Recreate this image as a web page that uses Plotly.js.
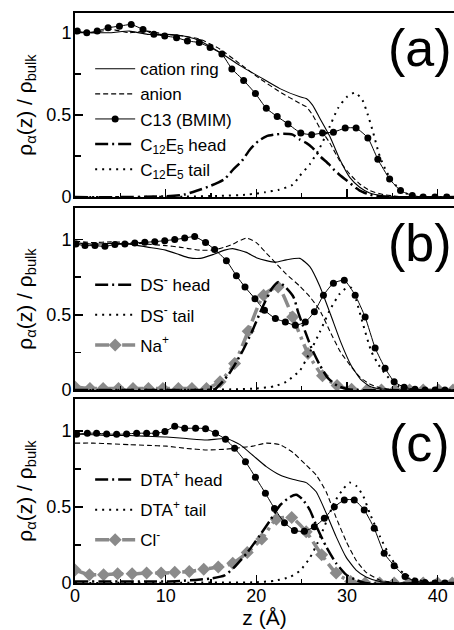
<!DOCTYPE html>
<html>
<head>
<meta charset="utf-8">
<script src="https://cdn.plot.ly/plotly-3.0.1.min.js"></script>
<style>html,body{margin:0;padding:0;background:#fff;}#chart{width:454px;height:630px;}</style>
</head>
<body>
<div id="chart"></div>
<script>
// ---------- Panel (a): BMIM / C12E5 ----------
const zA_line = [0,2,4,6,8,10,12,13.8,16,18.2,20.4,22.6,24.8,25.5,26.2,27,28.1,29.2,30.3,31.4,32.5,34,35.5,37,42];
const ringA   = [1.0,1.0,1.0,1.01,0.99,0.99,0.98,0.95,0.88,0.80,0.73,0.66,0.61,0.60,0.56,0.48,0.37,0.23,0.12,0.06,0.025,0.008,0.003,0,0];
const anionA  = [1.01,1.0,1.02,1.0,1.01,0.99,0.98,0.96,0.90,0.81,0.72,0.64,0.57,0.55,0.50,0.42,0.33,0.22,0.14,0.08,0.04,0.015,0.005,0,0];
const zA_c13  = [0.25,1.3,2.45,3.65,4.9,6.2,7.5,8.7,9.9,11.2,12.4,13.7,14.9,16.2,17.3,18.6,19.9,21.1,22.3,23.5,24.9,26.1,27.3,28.5,29.8,31.0,32.3,33.4,34.7,35.9,37.2,38.4,39.7,41.0];
const c13A    = [1.01,1.0,1.01,1.03,1.04,1.05,1.02,0.99,0.98,0.97,0.95,0.94,0.91,0.87,0.78,0.71,0.63,0.54,0.49,0.445,0.39,0.38,0.39,0.395,0.42,0.42,0.36,0.23,0.11,0.04,0.01,0,0,0];
const zA_head = [0,5,10,12,13.5,15,16.5,17.4,18.4,19.3,20.2,21.1,22,23,24,24.8,25.5,26.2,27,28,28.5,29.3,30,31,31.4,32.5,33.5,35,42];
const headA   = [0,0,0.005,0.015,0.04,0.07,0.11,0.165,0.22,0.29,0.34,0.37,0.38,0.385,0.38,0.35,0.33,0.30,0.25,0.20,0.17,0.13,0.10,0.055,0.04,0.015,0.005,0,0];
const zA_tail = [0,12,16,19,21,22.5,24,24.8,25.9,27,28.1,29,30,30.9,31.7,32.3,32.9,33.6,34.4,35.1,36.2,37.5,42];
const tailA   = [0,0.003,0.008,0.015,0.03,0.045,0.075,0.13,0.20,0.30,0.43,0.54,0.61,0.635,0.59,0.50,0.39,0.25,0.15,0.09,0.03,0.005,0];

// ---------- Panel (b): BMIM / SDS ----------
const zB_line = [0,2,4,6,8,10,11.5,12.5,13.8,15.2,16.5,17.4,18.9,20,21.1,22.2,23.3,24.8,25.9,27,28.2,29.3,30.4,31.5,32.5,33.6,35,37,42];
const ringB   = [0.98,0.97,0.975,0.97,0.95,0.93,0.90,0.88,0.875,0.90,0.93,0.94,0.915,0.88,0.86,0.85,0.865,0.875,0.82,0.69,0.50,0.32,0.17,0.07,0.025,0.008,0.002,0,0];
const anionB  = [0.99,0.98,0.985,0.98,0.97,0.96,0.95,0.94,0.93,0.93,0.95,0.97,1.01,0.98,0.91,0.84,0.77,0.69,0.62,0.53,0.38,0.25,0.16,0.08,0.04,0.015,0.004,0,0];
const zB_c13  = [0.1,1.1,2.2,3.3,4.4,5.5,6.6,7.7,8.8,9.9,11.0,12.1,13.2,14.4,15.4,16.7,17.8,18.75,19.85,20.9,22.1,23.2,24.3,25.4,26.4,27.4,28.5,29.7,30.9,32.0,33.1,34.2,35.2,36.3,37.5,38.6,39.7,40.8];
const c13B    = [0.97,0.96,0.96,0.955,0.967,0.97,0.978,0.982,0.986,0.993,1.0,1.01,1.02,0.98,0.934,0.86,0.76,0.684,0.607,0.53,0.475,0.452,0.43,0.452,0.52,0.63,0.71,0.73,0.63,0.485,0.28,0.145,0.055,0.018,0.005,0,0,0];
const zB_head = [0,10,14,15.4,16.9,18.4,19.5,20.6,21.7,22.4,23.2,24.1,24.6,25.4,26.1,27,27.9,29,30.1,31,42];
const headB   = [0,0,0,0.005,0.10,0.25,0.386,0.54,0.673,0.717,0.684,0.618,0.52,0.386,0.276,0.166,0.079,0.026,0.005,0,0];
const zB_tail = [0,15,18,20,22,23.3,24.8,25.9,27,28.1,29.2,30,30.5,31,31.8,32.7,33.5,34.6,35.7,37,38,42];
const tailB   = [0,0.003,0.005,0.01,0.025,0.055,0.13,0.25,0.385,0.53,0.64,0.68,0.68,0.60,0.43,0.254,0.166,0.08,0.025,0.005,0,0];
const zB_ion  = [0,1.65,3.1,4.8,6.4,8.1,9.7,11.4,12.9,14.5,16.0,17.6,19.1,20.8,22.4,24.0,25.7,27.3,28.9,30.5,32.2,33.8,35.3,36.9,38.4,40.1,41.7];
const naB     = [0.02,0.01,0.01,0.01,0.01,0.01,0.01,0.01,0.01,0.01,0.055,0.177,0.39,0.63,0.684,0.485,0.243,0.095,0.03,0.005,0,0,0,0,0,0,0];

// ---------- Panel (c): BMIM / DTAC ----------
const zC_line = [0,2,4,6,8,10.1,12.3,14.5,16.7,18.2,19.6,21.1,22.6,24.1,25.5,26.6,27.7,28.8,29.9,31,32.1,33.6,35,37,42];
const ringC   = [0.98,0.975,0.97,0.97,0.965,0.96,0.95,0.94,0.95,0.91,0.84,0.765,0.71,0.68,0.66,0.60,0.46,0.305,0.17,0.085,0.04,0.01,0.002,0,0];
const anionC  = [0.92,0.92,0.915,0.91,0.905,0.90,0.885,0.875,0.88,0.89,0.90,0.92,0.91,0.855,0.775,0.71,0.60,0.43,0.275,0.15,0.07,0.02,0.005,0,0];
const zC_c13  = [0.19,1.36,2.38,3.49,4.59,5.69,6.8,7.9,8.93,9.92,11.0,12.1,13.3,14.4,15.5,16.6,17.6,18.8,19.9,21.0,22.0,23.1,24.2,25.3,26.4,27.5,28.6,29.7,30.8,31.9,33.0,34.1,35.2,36.4,37.5,38.6,39.7,40.8];
const c13C    = [0.978,0.985,0.985,0.98,0.978,0.98,0.985,0.985,0.985,0.996,1.03,1.018,1.018,1.015,0.985,0.945,0.886,0.798,0.695,0.59,0.49,0.397,0.345,0.34,0.37,0.425,0.50,0.546,0.546,0.48,0.36,0.195,0.114,0.042,0.013,0.003,0,0];
const zC_head = [0,5,10,12,13.3,15,16.5,17.5,19,20.4,21.5,22.6,23.7,24.4,25.1,25.9,26.8,27.7,28.8,29.9,31,32,42];
const headC   = [0.01,0.01,0.01,0.015,0.02,0.03,0.05,0.10,0.20,0.315,0.41,0.51,0.565,0.58,0.55,0.48,0.35,0.24,0.13,0.055,0.02,0,0];
const zC_tail = [0,15,20,22,23.7,24.8,25.9,26.8,27.7,28.6,29.6,30.3,31,31.8,32.5,33.6,34.7,35.8,37.3,39,42];
const tailC   = [0,0.003,0.005,0.015,0.04,0.08,0.165,0.27,0.40,0.53,0.62,0.66,0.64,0.57,0.46,0.31,0.18,0.085,0.03,0.005,0];
const zC_ion  = [0,1.6,3.15,4.7,6.3,7.9,9.5,11.0,12.6,14.2,15.8,17.4,19.0,20.6,22.2,23.9,25.5,27.2,28.8,30.4,32.0,33.6,35.2,36.8,38.4,40.0,41.6];
const clC     = [0.085,0.055,0.055,0.06,0.06,0.065,0.065,0.07,0.075,0.09,0.105,0.13,0.20,0.29,0.42,0.43,0.337,0.185,0.065,0.01,0,0,0,0,0,0,0];

// ---------- Labels ----------
const legendA = ['cation ring','anion','C13 (BMIM)','C<sub>12</sub>E<sub>5</sub> head','C<sub>12</sub>E<sub>5</sub> tail'];
const legendB = ['DS<sup>-</sup> head','DS<sup>-</sup> tail','Na<sup>+</sup>'];
const legendC = ['DTA<sup>+</sup> head','DTA<sup>+</sup> tail','Cl<sup>-</sup>'];
const panelLabels = ['(a)','(b)','(c)'];
const yTickVals = [0,0.5,1];
const yTickText = ['0','0.5','1'];

const FONT = 'Liberation Sans, Arial, sans-serif';
const HEAD_DASH = '13px,4px,2px,4px';
const TAIL_DASH = '2px,5px';
const ION_DASH = '14px,5px,3px,5px';

function panelTraces(xa, ya, lg, d, names, showBase) {
  const t = [];
  const g = lg + '_';
  if (d.ion) {
    t.push({x: d.ion[0], y: d.ion[1], xaxis: xa, yaxis: ya, mode: 'lines+markers', name: names[2],
      legend: lg, legendgroup: g + 'ion', legendrank: 3, showlegend: true,
      line: {color: '#8a8a8a', width: 3.5, dash: ION_DASH, shape: 'spline', smoothing: 0.6},
      marker: {symbol: 'diamond', size: 10, color: '#8a8a8a'}});
  }
  t.push({x: d.line[0], y: d.line[1], xaxis: xa, yaxis: ya, mode: 'lines', name: 'cation ring',
    legend: lg, legendrank: 1, showlegend: showBase,
    line: {color: '#000', width: 1.1, shape: 'spline', smoothing: 0.5}});
  t.push({x: d.line[0], y: d.line[2], xaxis: xa, yaxis: ya, mode: 'lines', name: 'anion',
    legend: lg, legendrank: 2, showlegend: showBase,
    line: {color: '#000', width: 1.1, dash: '5px,3px', shape: 'spline', smoothing: 0.5}});
  t.push({x: d.c13[0], y: d.c13[1], xaxis: xa, yaxis: ya, mode: 'lines+markers', name: 'C13 (BMIM)',
    legend: lg, legendrank: 3, showlegend: showBase,
    line: {color: '#000', width: 1, shape: 'spline', smoothing: 0.5},
    marker: {symbol: 'circle', size: 7, color: '#000'}});
  const headTr = {x: d.head[0], y: d.head[1], xaxis: xa, yaxis: ya, mode: 'lines', name: names[0],
    legend: lg, legendrank: showBase ? 4 : 1, showlegend: true,
    line: {color: '#000', width: 2.5, dash: HEAD_DASH, shape: 'spline', smoothing: 0.6}};
  const tailTr = {x: d.tail[0], y: d.tail[1], xaxis: xa, yaxis: ya, mode: 'lines', name: names[1],
    legend: lg, legendrank: showBase ? 5 : 2, showlegend: true,
    line: {color: '#000', width: 2, dash: TAIL_DASH, shape: 'spline', smoothing: 0.6}};
  if (!showBase) { headTr.legendgroup = g + 'head'; tailTr.legendgroup = g + 'tail'; }
  t.push(headTr, tailTr);
  return t;
}

const traces = [].concat(
  panelTraces('x3', 'y3', 'legend', {
    line: [zA_line, ringA, anionA], c13: [zA_c13, c13A], head: [zA_head, headA], tail: [zA_tail, tailA]
  }, [legendA[3], legendA[4]], true),
  panelTraces('x2', 'y2', 'legend2', {
    line: [zB_line, ringB, anionB], c13: [zB_c13, c13B], head: [zB_head, headB], tail: [zB_tail, tailB], ion: [zB_ion, naB]
  }, legendB, false),
  panelTraces('x', 'y', 'legend3', {
    line: [zC_line, ringC, anionC], c13: [zC_c13, c13C], head: [zC_head, headC], tail: [zC_tail, tailC], ion: [zC_ion, clC]
  }, legendC, false)
);

function xax(anchor, labels) {
  const a = {anchor: anchor, domain: [0, 1], range: [0, 41.8], tickmode: 'linear', tick0: 0, dtick: 10,
    ticks: 'inside', ticklen: 8, tickwidth: 1.5, tickcolor: '#000',
    minor: {dtick: 5, ticks: 'inside', ticklen: 4, tickwidth: 1.5, tickcolor: '#000', showgrid: false},
    showline: true, linewidth: 2, linecolor: '#000', mirror: true,
    showgrid: false, zeroline: false, showticklabels: labels, ticklabelstandoff: -5,
    tickfont: {family: FONT, size: 18, color: '#000'}};
  if (labels) a.title = {text: 'z (Å)', font: {family: FONT, size: 21, color: '#000'}, standoff: 6};
  return a;
}
function yax(anchor, dom, top) {
  return {anchor: anchor, domain: dom, range: [0, top], tickmode: 'array', tickvals: yTickVals, ticktext: yTickText,
    ticks: 'inside', ticklen: 8, tickwidth: 1.5, tickcolor: '#000',
    minor: {tickvals: [0.25, 0.75], ticks: 'inside', ticklen: 6, tickwidth: 1.5, tickcolor: '#000', showgrid: false},
    showline: true, linewidth: 2, linecolor: '#000', mirror: false,
    showgrid: false, zeroline: false, ticklabelstandoff: -2,
    tickfont: {family: FONT, size: 18, color: '#000'},
    title: {text: 'ρ<sub>α</sub>(z) / ρ<sub>bulk</sub>', font: {family: FONT, size: 21, color: '#000'}, standoff: 8}};
}

function leg(y, gap, order) {
  return {x: 0.04, y: y, xanchor: 'left', yanchor: 'top', bgcolor: 'rgba(0,0,0,0)', borderwidth: 0,
    font: {family: FONT, size: 17, color: '#000'}, itemwidth: 40, tracegroupgap: gap, traceorder: order};
}

const layout = {
  width: 454, height: 630,
  margin: {l: 75, r: 0, t: 13, b: 47},
  paper_bgcolor: '#fff', plot_bgcolor: '#fff',
  font: {family: FONT, color: '#000'},
  showlegend: true,
  xaxis: xax('y', true),
  xaxis2: xax('y2', false),
  xaxis3: xax('y3', false),
  yaxis: yax('x', [0, 0.3228], 1.21),
  yaxis2: yax('x2', [0.3386, 0.6579], 1.21),
  yaxis3: yax('x3', [0.677, 1], 1.12),
  legend: leg(0.933, 0, 'normal'),
  legend2: leg(0.554, 5, 'grouped'),
  legend3: leg(0.2123, 5, 'grouped'),
  annotations: [
    {text: panelLabels[0], xref: 'paper', yref: 'paper', x: 0.91, y: 0.9386, xanchor: 'center', yanchor: 'middle', showarrow: false, font: {family: FONT, size: 52, color: '#000'}},
    {text: panelLabels[1], xref: 'paper', yref: 'paper', x: 0.91, y: 0.5965, xanchor: 'center', yanchor: 'middle', showarrow: false, font: {family: FONT, size: 52, color: '#000'}},
    {text: panelLabels[2], xref: 'paper', yref: 'paper', x: 0.91, y: 0.2456, xanchor: 'center', yanchor: 'middle', showarrow: false, font: {family: FONT, size: 52, color: '#000'}}
  ]
};

Plotly.newPlot('chart', traces, layout, {displayModeBar: false, staticPlot: true});
</script>
</body>
</html>
